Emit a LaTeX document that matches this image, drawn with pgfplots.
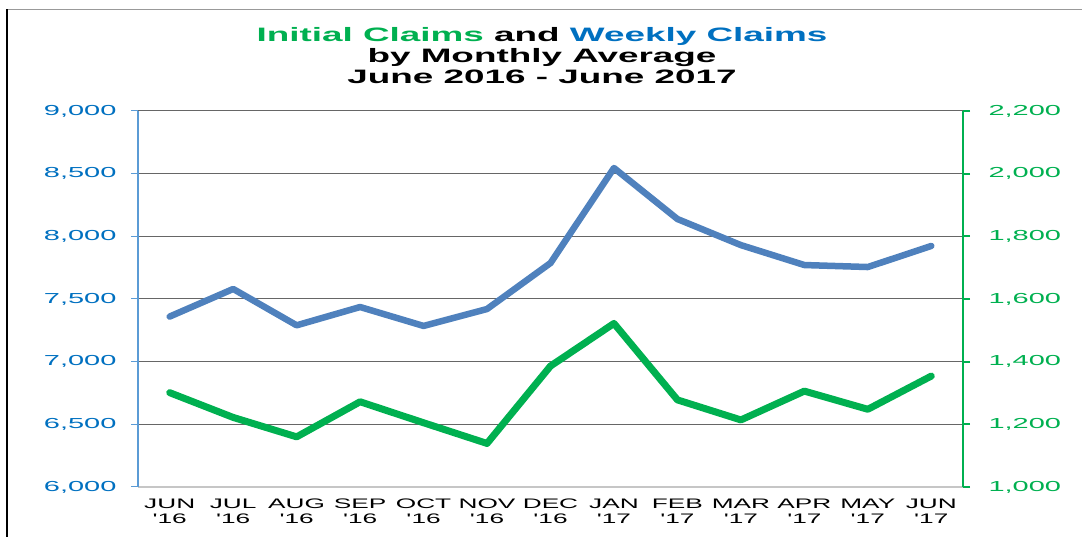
\documentclass[border=0pt]{standalone}
\usepackage{pgfplots}
\pgfplotsset{compat=1.18}
\usepackage{pgfplotstable}
\usepackage{fontspec}
\setmainfont{Liberation Sans}
\newfontfamily\wf{Liberation Sans}[FakeStretch=1.9]
\newfontfamily\wy{Liberation Sans}[FakeStretch=2.0]
\definecolor{lblue}{HTML}{4F81BD}
\definecolor{tblue}{HTML}{0070C0}
\definecolor{tgreen}{HTML}{00B050}
\definecolor{axblue}{HTML}{5B9BD5}
\pgfplotstableread{
x weekly initial
0 7360 1301
1 7580 1222
2 7290 1160
3 7436 1272
4 7285 1205
5 7420 1139
6 7787 1386
7 8545 1522
8 8138 1278
9 7930 1214
10 7771 1306
11 7755 1248
12 7923 1354
}\data
\begin{document}
\wf
\begin{tikzpicture}
\useasboundingbox (0,0) rectangle (1082pt,537pt);
\draw[gray!80, line width=1pt] (7pt,527pt) -- (1082pt,527pt);
\draw[black, line width=1.2pt] (7pt,527.5pt) -- (7pt,0pt);
\node[align=center, font=\wf\bfseries\fontsize{19.4}{21}\selectfont, inner sep=0pt] at (542pt,481pt)
  {\textcolor{tgreen}{Initial Claims} and \textcolor{tblue}{Weekly Claims}\\by Monthly Average\\June 2016 - June 2017};
\begin{axis}[
  at={(138pt,50pt)}, anchor=south west, width=825pt, height=376pt, scale only axis,
  xmin=-0.5, xmax=12.5, ymin=6000, ymax=9000,
  ytick={6000,6500,...,9000},
  xtick={0,...,12},
  xticklabels={{JUN\\'16},{JUL\\'16},{AUG\\'16},{SEP\\'16},{OCT\\'16},{NOV\\'16},{DEC\\'16},{JAN\\'17},{FEB\\'17},{MAR\\'17},{APR\\'17},{MAY\\'17},{JUN\\'17}},
  x tick label style={align=center, font=\wf\fontsize{13.8}{14.5}\selectfont, text=black, inner sep=1pt, yshift=-4pt},
  major x tick style={draw=none},
  extra x ticks={-0.5,0.5,...,12.5}, extra x tick labels={},
  extra x tick style={tick style={draw=black!75, line width=1pt}},
  axis x line*=bottom, axis y line*=left,
  x axis line style={draw=gray!45, line width=2pt, -},
  y axis line style={draw=axblue, line width=1.5pt, -},
  ymajorgrids, grid style={black!60, line width=1pt},
  y tick label style={text=tblue, font=\wy\fontsize{14.5}{16}\selectfont, xshift=-11pt},
  /pgf/number format/.cd, 1000 sep={,}, assume math mode=true, /pgfplots/.cd,
  ytick style={draw=axblue, line width=1pt},
  tick align=outside, major tick length=7pt,
]
\addplot[lblue, line width=6.5pt, line join=round, line cap=round] table[x=x, y=weekly] {\data};
\end{axis}
\begin{axis}[
  at={(138pt,50pt)}, anchor=south west, width=825pt, height=376pt, scale only axis,
  xmin=-0.5, xmax=12.5, ymin=1000, ymax=2200,
  ytick={1000,1200,...,2200},
  axis x line=none, axis y line*=right,
  y axis line style={draw=tgreen, line width=2.5pt, -},
  ytick style={draw=tgreen, line width=2pt},
  y tick label style={text=tgreen, font=\wy\fontsize{14.5}{16}\selectfont, xshift=15pt},
  /pgf/number format/.cd, 1000 sep={,}, assume math mode=true, /pgfplots/.cd,
  tick align=outside, major tick length=7pt,
]
\addplot[tgreen, line width=7pt, line join=round, line cap=round] table[x=x, y=initial] {\data};
\end{axis}
\end{tikzpicture}
\end{document}
